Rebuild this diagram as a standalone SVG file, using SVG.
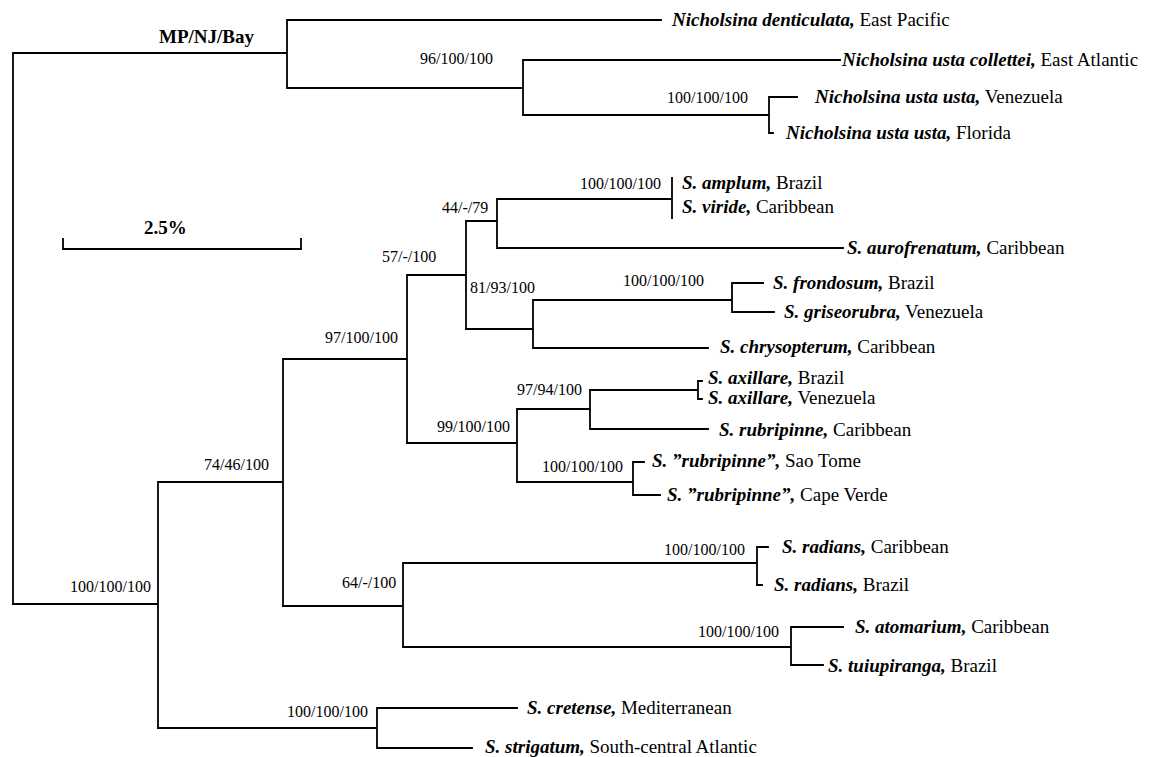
<svg xmlns="http://www.w3.org/2000/svg" width="1154" height="757" viewBox="0 0 1154 757">
<style>
text{font-family:"Liberation Serif","Times New Roman",serif;fill:#000}
.sp{font-size:19px}
.bi{font-weight:bold;font-style:italic}
.sup{font-size:16px}
.hd{font-size:19px;font-weight:bold}
.br{fill:none;stroke:#000;stroke-width:1.8;stroke-linecap:square}
</style>
<rect width="1154" height="757" fill="#fff"/>
<g id="connectors" class="br">
<path d="M13,53V604M13,53H287M287,20V88M287,20H661M287,88H523M523,60V115M523,60H840M523,115H769M769,97V133M769,97H797M769,133H773"/>
<path d="M13,604H158M158,482V728M158,482H283M283,359V606M283,359H407M407,275V443M407,275H466M466,221V329M466,221H497M497,199V248M497,199H672M672,178V218M497,248H843"/>
<path d="M466,329H533M533,300V348M533,300H732M732,283V312M732,283H763M732,312H774M533,348H708"/>
<path d="M407,443H517M517,409V482M517,409H590M590,390V429M590,390H698M698,381V399M698,381H702M698,399H702M590,429H708M517,482H633M633,462V495M633,462H644M633,495H660"/>
<path d="M283,606H403M403,563V647M403,563H757M757,547V585M757,547H768M757,585H762M403,647H791M791,627V665M791,627H843M791,665H823"/>
<path d="M158,728H377M377,708V748M377,708H517M377,748H472"/>
</g>
<g id="scale">
<path class="br" d="M63,239V249H301V239"/>
<text class="hd" x="144" y="234">2.5%</text>
</g>
<g id="root-label"><text class="hd" x="159" y="43">MP/NJ/Bay</text></g>
<g id="supports">
<text class="sup" x="420" y="64">96/100/100</text>
<text class="sup" x="667" y="103">100/100/100</text>
<text class="sup" x="580" y="189">100/100/100</text>
<text class="sup" x="442" y="213">44/-/79</text>
<text class="sup" x="382" y="262">57/-/100</text>
<text class="sup" x="470" y="293">81/93/100</text>
<text class="sup" x="623" y="286">100/100/100</text>
<text class="sup" x="325" y="343">97/100/100</text>
<text class="sup" x="517" y="395">97/94/100</text>
<text class="sup" x="437" y="432">99/100/100</text>
<text class="sup" x="542" y="472">100/100/100</text>
<text class="sup" x="204" y="470">74/46/100</text>
<text class="sup" x="342" y="588">64/-/100</text>
<text class="sup" x="664" y="555">100/100/100</text>
<text class="sup" x="698" y="637">100/100/100</text>
<text class="sup" x="70" y="592">100/100/100</text>
<text class="sup" x="287" y="717">100/100/100</text>
</g>
<g id="n-denticulata"><text class="sp" x="672" y="26"><tspan class="bi">Nicholsina denticulata,</tspan> East Pacific</text></g>
<g id="n-collettei"><text class="sp" x="842" y="66"><tspan class="bi">Nicholsina usta collettei,</tspan> East Atlantic</text></g>
<g id="n-usta-ven"><text class="sp" x="815" y="103"><tspan class="bi">Nicholsina usta usta,</tspan> Venezuela</text></g>
<g id="n-usta-fl"><text class="sp" x="786" y="139"><tspan class="bi">Nicholsina usta usta,</tspan> Florida</text></g>
<g id="n-amplum"><text class="sp" x="682" y="189"><tspan class="bi">S. amplum,</tspan> Brazil</text></g>
<g id="n-viride"><text class="sp" x="682" y="213"><tspan class="bi">S. viride,</tspan> Caribbean</text></g>
<g id="n-aurofrenatum"><text class="sp" x="847" y="254"><tspan class="bi">S. aurofrenatum,</tspan> Caribbean</text></g>
<g id="n-frondosum"><text class="sp" x="773" y="289"><tspan class="bi">S. frondosum,</tspan> Brazil</text></g>
<g id="n-griseorubra"><text class="sp" x="784" y="318"><tspan class="bi">S. griseorubra,</tspan> Venezuela</text></g>
<g id="n-chrysopterum"><text class="sp" x="720" y="353"><tspan class="bi">S. chrysopterum,</tspan> Caribbean</text></g>
<g id="n-axillare-br"><text class="sp" x="708" y="384"><tspan class="bi">S. axillare,</tspan> Brazil</text></g>
<g id="n-axillare-ven"><text class="sp" x="708" y="404"><tspan class="bi">S. axillare,</tspan> Venezuela</text></g>
<g id="n-rubripinne"><text class="sp" x="719" y="436"><tspan class="bi">S. rubripinne,</tspan> Caribbean</text></g>
<g id="n-rubripinne-st"><text class="sp" x="652" y="467"><tspan class="bi">S. ”rubripinne”,</tspan> Sao Tome</text></g>
<g id="n-rubripinne-cv"><text class="sp" x="667" y="501"><tspan class="bi">S. ”rubripinne”,</tspan> Cape Verde</text></g>
<g id="n-radians-car"><text class="sp" x="782" y="553"><tspan class="bi">S. radians,</tspan> Caribbean</text></g>
<g id="n-radians-br"><text class="sp" x="774" y="591"><tspan class="bi">S. radians,</tspan> Brazil</text></g>
<g id="n-atomarium"><text class="sp" x="855" y="633"><tspan class="bi">S. atomarium,</tspan> Caribbean</text></g>
<g id="n-tuiupiranga"><text class="sp" x="828" y="672"><tspan class="bi">S. tuiupiranga,</tspan> Brazil</text></g>
<g id="n-cretense"><text class="sp" x="527" y="714"><tspan class="bi">S. cretense,</tspan> Mediterranean</text></g>
<g id="n-strigatum"><text class="sp" x="485" y="753"><tspan class="bi">S. strigatum,</tspan> South-central Atlantic</text></g>
</svg>
